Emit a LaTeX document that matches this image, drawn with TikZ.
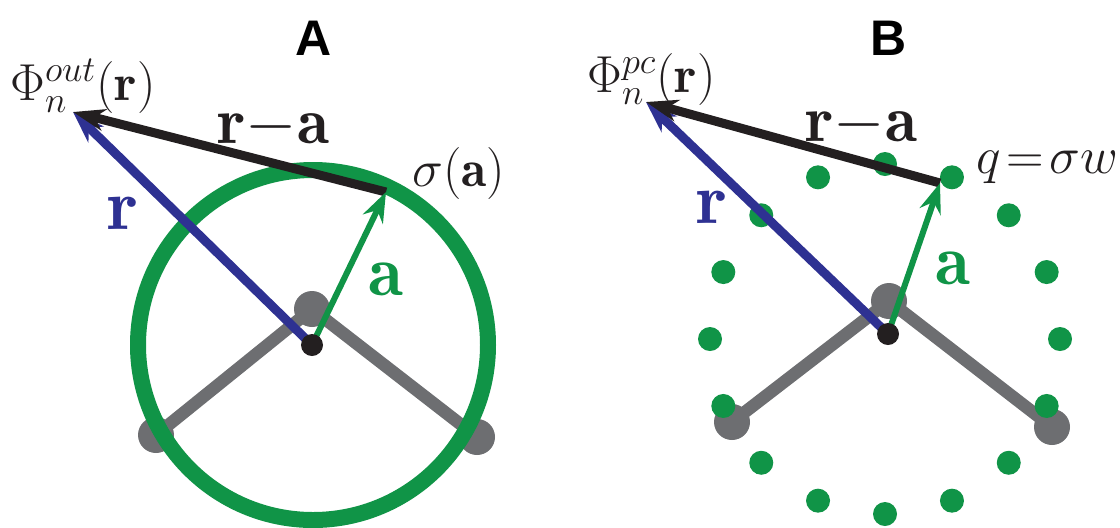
\RequirePackage{fix-cm}
\documentclass[tikz,border=0pt]{standalone}
\usepackage{fontspec}
\usepackage{tikz}
\usetikzlibrary{arrows.meta}
\newfontfamily\panelfont{Liberation Sans}
\definecolor{wgreen}{HTML}{109447}
\definecolor{wblue}{HTML}{2E3192}
\definecolor{wgray}{HTML}{6D6E71}
\definecolor{wblack}{HTML}{231F20}

\begin{document}
\begin{tikzpicture}[x=0.5pt,y=-0.5pt,
        panel/.style={font=\panelfont\bfseries\fontsize{25}{25}\selectfont,
                      inner sep=0pt,anchor=base},
        lab/.style={font=\fontsize{26}{26}\selectfont,inner sep=0pt,anchor=base west},
        big/.style={font=\fontsize{33}{33}\selectfont,inner sep=0pt,anchor=base},
        vlab/.style={big,font=\fontsize{36}{36}\selectfont},
        bond/.style={wgray,line width=6.25pt,line join=round},
        vec/.style={line width=4.5pt,-{Stealth[length=16pt,width=11pt,inset=5pt]}},
        avec/.style={wgreen,line width=3pt,-{Stealth[length=15pt,width=11pt,inset=5pt]}}
      ]
        \useasboundingbox (0,0) rectangle (1120,527);
        % panel A
        \node[panel] (tA) at (314,55) {A};
        \coordinate (mA) at (312,345);
        \coordinate (oA) at (312,309);
        \coordinate (hlA) at (156,435);
        \coordinate (hrA) at (477,437);
        \coordinate (phiA) at (73,112);
        \coordinate (sA) at (386,192);
        \draw[bond] (hlA) -- (oA) -- (hrA);
        \foreach \p in {oA,hlA,hrA} \fill[wgray] (\p) circle[radius=18];
        \draw[wgreen,line width=8pt] (313,345) circle[radius=175];
        \draw[vec,wblue] (mA) -- (phiA);
        \draw[vec,wblack] (sA) -- (phiA);
        \draw[avec] (mA) -- (sA);
        \fill[wblack] (mA) circle[radius=11];
        \node[lab,wblack] (phiAlab) at (10,100) {$\Phi^{out}_n(\mathbf{r})$};
        \node[lab,wblack] (sigA) at (412,186) {$\sigma(\mathbf{a})$};
        \node[big,wblack] (raA) at (273.5,143) {$\mathbf{r}{-}\mathbf{a}$};
        \node[vlab,wblue] (rA) at (123,229) {$\mathbf{r}$};
        \node[vlab,wgreen] (aA) at (386,295) {$\mathbf{a}$};
        % panel B
        \node[panel] (tB) at (889,55) {B};
        \coordinate (cB) at (885,339);
        \coordinate (mB) at (888,334);
        \coordinate (oB) at (889,301);
        \coordinate (hlB) at (732,422);
        \coordinate (hrB) at (1052,427);
        \coordinate (phiB) at (646,102);
        \coordinate (sB) at (940,183);
        \draw[bond] (hlB) -- (oB) -- (hrB);
        \foreach \p in {oB,hlB,hrB} \fill[wgray] (\p) circle[radius=18];
        \foreach \k in {0,...,15}
          \fill[wgreen] (cB) ++(\k*22.5:175) circle[radius=12];
        \draw[vec,wblue] (mB) -- (phiB);
        \draw[vec,wblack] (sB) -- (phiB);
        \draw[avec] (mB) -- (sB);
        \fill[wblack] (mB) circle[radius=11];
        \node[lab,wblack] (phiBlab) at (587,92) {$\Phi^{pc}_n(\mathbf{r})$};
        \node[lab,wblack] (qB) at (976,173) {$q\!=\!\sigma w$};
        \node[big,wblack] (raB) at (861.5,141) {$\mathbf{r}{-}\mathbf{a}$};
        \node[vlab,wblue] (rB) at (711.5,223) {$\mathbf{r}$};
        \node[vlab,wgreen] (aB) at (953,284) {$\mathbf{a}$};
      \end{tikzpicture}
\end{document}
